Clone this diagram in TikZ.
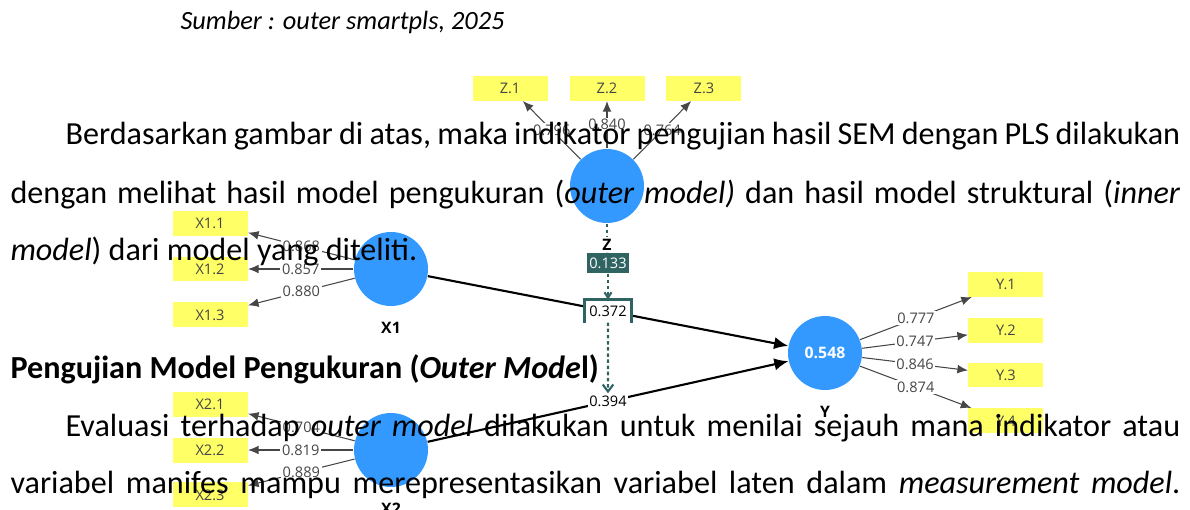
\documentclass[tikz,border=0pt]{standalone}
\usepackage{fontspec}
\setmainfont{Carlito}
\newfontfamily\plsfont{Open Sans}
\usetikzlibrary{arrows,arrows.meta,positioning}

\definecolor{plsblue}{RGB}{51,153,255}
\definecolor{plsyellow}{RGB}{255,255,102}
\definecolor{plsteal}{RGB}{47,100,98}
\definecolor{plsgray}{RGB}{70,70,70}

\begin{document}
\begin{tikzpicture}[x=0.02cm,y=-0.02cm,>={Latex[length=6pt,width=5pt]},semithick,
    label distance=0.26cm,
    lv/.style={circle,fill=plsblue,minimum size=1.48cm,inner sep=0pt},
    ind/.style={fill=plsyellow,minimum width=1.5cm,minimum height=0.5cm,
      inner sep=0pt,text=plsgray,font=\plsfont\fontsize{8.3}{9}\selectfont},
    lvname/.style={fill=white,inner sep=1pt,
      font=\plsfont\bfseries\fontsize{9}{10}\selectfont},
    coef/.style={fill=white,inner sep=1pt,text=plsgray,
      font=\plsfont\fontsize{8.3}{9}\selectfont},
    load/.style={->,draw=plsgray,line width=0.6pt},
    inner/.style={-{Latex[length=8pt,width=7pt]},draw=black,line width=1.2pt},
    modline/.style={draw=plsteal,line width=1.2pt,dash pattern=on 2pt off 1.5pt},
    body/.style={anchor=base west,inner sep=0pt,font=\fontsize{18.3}{22}\selectfont}]
  \useasboundingbox (0,0) rectangle (1190,510);

  % latent variables
  \node[lv,label={[lvname]below:X1}] (x1) at (391,269) {};
  \node[lv,label={[lvname]below:X2}] (x2) at (391,450) {};
  \node[lv,label={[lvname,name=zl]below:Z}] (z) at (607,186) {};
  \node[lv,label={[lvname]below:Y},text=white,
    font=\plsfont\bfseries\fontsize{9}{10}\selectfont] (y) at (825,353) {0.548};

  % indicators
  \node[ind,on grid,left=3.62cm of x1] (x12) {X1.2};
  \node[ind,on grid,above=0.92cm of x12] (x11) {X1.1};
  \node[ind,on grid,below=0.92cm of x12] (x13) {X1.3};
  \node[ind,on grid,left=3.62cm of x2] (x22) {X2.2};
  \node[ind,on grid,above=0.92cm of x22] (x21) {X2.1};
  \node[ind,on grid,below=0.9cm of x22] (x23) {X2.3};
  \node[ind,on grid,above=1.96cm of z] (z2) {Z.2};
  \node[ind,on grid,left=1.94cm of z2] (z1) {Z.1};
  \node[ind,on grid,right=1.94cm of z2] (z3) {Z.3};
  \node[ind,on grid,right=3.62cm of y,yshift=0.46cm] (y2) {Y.2};
  \node[ind,on grid,above=0.92cm of y2] (y1) {Y.1};
  \node[ind,on grid,right=3.62cm of y,yshift=-0.44cm] (y3) {Y.3};
  \node[ind,on grid,below=0.92cm of y3] (y4) {Y.4};

  % outer loadings
  \draw[load] (x1) -- node[coef] {0.868} (x11);
  \draw[load] (x1) -- node[coef] {0.857} (x12);
  \draw[load] (x1) -- node[coef] {0.880} (x13);
  \draw[load] (x2) -- node[coef] {0.704} (x21);
  \draw[load] (x2) -- node[coef] {0.819} (x22);
  \draw[load] (x2) -- node[coef] {0.889} (x23);
  \draw[load] (z) -- node[coef] {0.796} (z1);
  \draw[load] (z) -- node[coef] {0.840} (z2);
  \draw[load] (z) -- node[coef] {0.764} (z3);
  \draw[load] (y) -- node[coef] {0.777} (y1);
  \draw[load] (y) -- node[coef] {0.747} (y2);
  \draw[load] (y) -- node[coef] {0.846} (y3);
  \draw[load] (y) -- node[coef] {0.874} (y4);

  % inner model
  \draw[inner] (x1) -- node[coef,text=black,minimum width=0.9cm,
    minimum height=0.42cm] (b1) {0.372} (y);
  \draw[inner] (x2) -- node[coef,text=black] (b2) {0.394} (y);
  \draw[plsteal,line width=1.6pt] (b1.south west) |- (b1.north) -| (b1.south east);

  % moderating effect
  \node[fill=plsteal,text=white,inner sep=1.5pt,minimum width=0.78cm,
    minimum height=0.4cm,font=\plsfont\fontsize{8.3}{9}\selectfont] (m) at (608,263) {0.133};
  \draw[modline] (z) -- (zl);
  \draw[modline] (zl) -- (m);
  \draw[modline,-{Straight Barb[length=3pt,width=4pt]}] (m) -- (b1.north);
  \draw[modline,-{Straight Barb[length=4pt,width=6pt]}] (b1.south) -- (b2.north);

  % page text
  \node[anchor=base west,inner sep=0pt,font=\itshape\fontsize{15}{18}\selectfont]
    (src) at (180,30) {Sumber : outer smartpls, 2025};
  \node[body] (l1) at (65,145) {\makebox[22.3cm][s]{Berdasarkan gambar di atas, maka indikator pengujian hasil SEM dengan PLS dilakukan}};
  \node[body] (l2) at (10,203) {\makebox[23.4cm][s]{dengan melihat hasil model pengukuran (\textit{outer model)} dan hasil model struktural (\textit{inner}}};
  \node[body] (l3) at (10,260) {\textit{model}) dari model yang diteliti.};
  \node[body] (hd) at (10,378) {\textbf{Pengujian Model Pengukuran (\textit{Outer Mode}l)}};
  \node[body] (l5) at (65,436) {\makebox[22.3cm][s]{Evaluasi terhadap \textit{outer model} dilakukan untuk menilai sejauh mana indikator atau}};
  \node[body] (l6) at (10,493) {\makebox[23.4cm][s]{variabel manifes mampu merepresentasikan variabel laten dalam \textit{measurement model}.}};
\end{tikzpicture}
\end{document}
